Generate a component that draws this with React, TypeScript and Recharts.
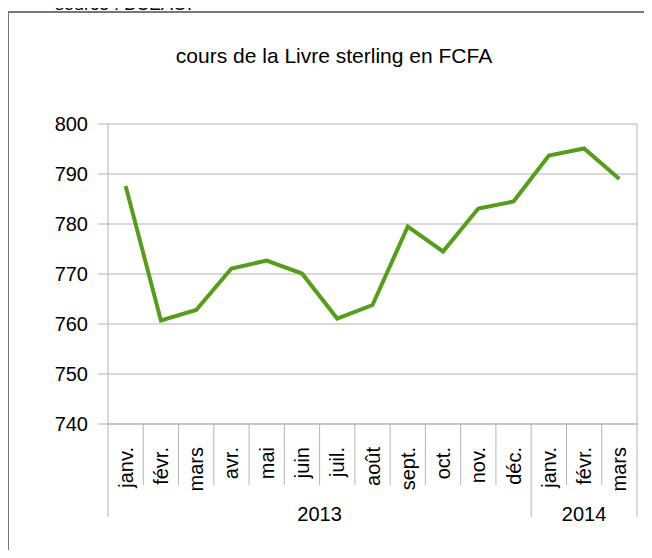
import React from 'react';
import { LineChart, Line, XAxis, YAxis, CartesianGrid } from 'recharts';

const months = ['janv.', 'févr.', 'mars', 'avr.', 'mai', 'juin', 'juil.', 'août', 'sept.', 'oct.', 'nov.', 'déc.', 'janv.', 'févr.', 'mars'];
const years = ['2013', '2013', '2013', '2013', '2013', '2013', '2013', '2013', '2013', '2013', '2013', '2013', '2014', '2014', '2014'];
const rates = [787.6, 760.7, 762.8, 771.1, 772.7, 770.1, 761.1, 763.8, 779.5, 774.5, 783.1, 784.5, 793.7, 795.1, 789.0];
const yTicks = [740, 750, 760, 770, 780, 790, 800];

const data = months.map((m, i) => ({ id: i, month: m, year: years[i], rate: rates[i] }));

const FONT = '"Liberation Sans", Arial, sans-serif';
const GRID = '#b3b3b3';

function MonthTick(props: any) {
  const { x, y, index, width, visibleTicksCount } = props;
  const band = width / visibleTicksCount;
  const left = x - band / 2;
  const groupStart = index === 0 || years[index] !== years[index - 1];
  const isLast = index === visibleTicksCount - 1;
  let yearLabel = null;
  if (groupStart) {
    let n = 0;
    while (index + n < years.length && years[index + n] === years[index]) n++;
    yearLabel = (
      <text x={left + (n * band) / 2} y={y + 97} textAnchor="middle" fontSize={20} fontFamily={FONT} fill="#000">
        {years[index]}
      </text>
    );
  }
  return (
    <g>
      <line x1={left} y1={y} x2={left} y2={y + (groupStart ? 93 : 61)} stroke={GRID} />
      {isLast && <line x1={left + band} y1={y} x2={left + band} y2={y + 93} stroke={GRID} />}
      <text
        x={x}
        y={y + 23}
        dy="0.35em"
        transform={`rotate(-90, ${x}, ${y + 23})`}
        textAnchor="end"
        fontSize={20}
        fontFamily={FONT}
        fill="#000"
      >
        {months[index]}
      </text>
      {yearLabel}
    </g>
  );
}

export default function App() {
  return (
    <div style={{ position: 'relative', margin: -8, width: 652, height: 558, overflow: 'hidden', background: '#fff' }}>
      <div style={{ position: 'absolute', left: 0, top: 0 }}>
        <LineChart width={652} height={558} data={data} margin={{ top: 124, right: 0, left: 0, bottom: 0 }}>
          <CartesianGrid horizontal vertical={false} stroke={GRID} yAxisId="left" />
          <XAxis
            dataKey="id"
            type="category"
            scale="band"
            height={134}
            axisLine={{ stroke: GRID }}
            tickLine={false}
            tickSize={0}
            tickMargin={0}
            interval={0}
            tick={<MonthTick />}
          />
          <YAxis
            yAxisId="left"
            width={108}
            domain={[740, 800]}
            ticks={yTicks}
            interval={0}
            axisLine={{ stroke: GRID }}
            tickLine={{ stroke: GRID }}
            tickSize={10}
            tickMargin={10}
            tick={{ fill: '#000', fontSize: 20, fontFamily: FONT }}
          />
          <YAxis
            yAxisId="right"
            orientation="right"
            width={15}
            domain={[740, 800]}
            axisLine={{ stroke: GRID }}
            tickLine={false}
            tick={false}
          />
          <Line
            yAxisId="left"
            type="linear"
            dataKey="rate"
            stroke="#579d1c"
            strokeWidth={4}
            dot={false}
            activeDot={false}
            isAnimationActive={false}
          />
        </LineChart>
      </div>
      <div
        style={{
          position: 'absolute',
          left: 55,
          top: -7,
          fontFamily: FONT,
          fontSize: 18,
          lineHeight: '22px',
          color: '#000',
          whiteSpace: 'nowrap',
        }}
      >
        source : BCEAO.
      </div>
      <div
        style={{
          position: 'absolute',
          left: 7,
          top: 11,
          width: 660,
          height: 560,
          borderTop: '2px solid #777',
          borderLeft: '2px solid #777',
          pointerEvents: 'none',
        }}
      />
      <div
        style={{
          position: 'absolute',
          left: 0,
          width: 668,
          top: 44,
          textAlign: 'center',
          fontFamily: FONT,
          fontSize: 21,
          lineHeight: '24px',
          color: '#000',
        }}
      >
        cours de la Livre sterling en FCFA
      </div>
    </div>
  );
}
